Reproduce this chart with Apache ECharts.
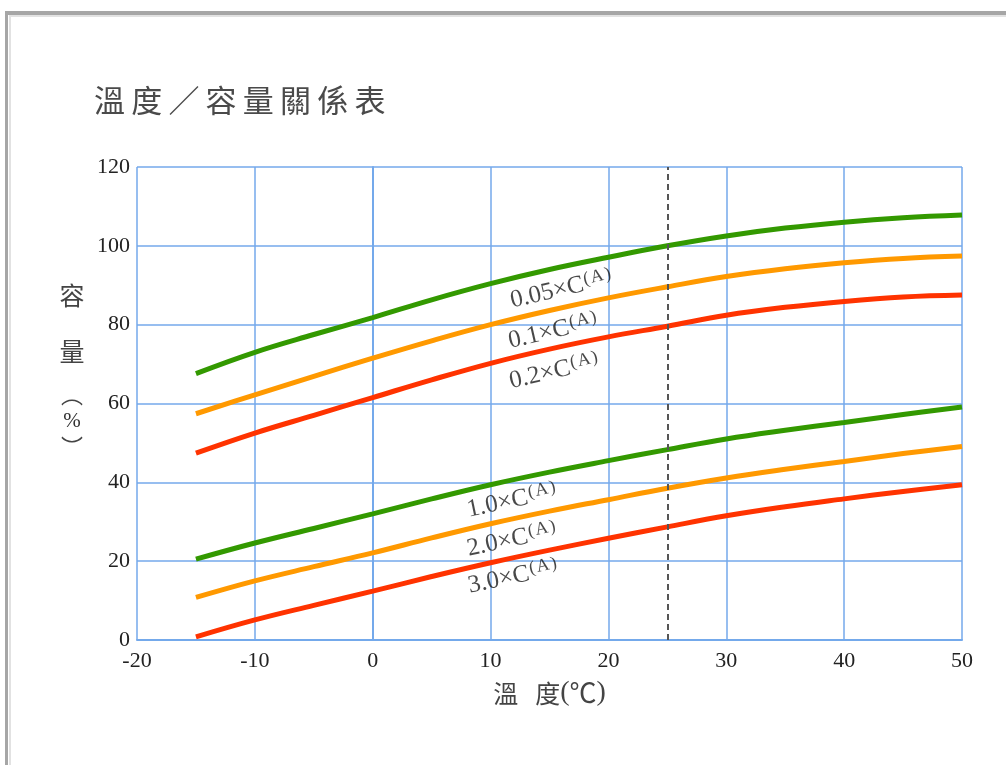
<!DOCTYPE html>
<html>
<head>
<meta charset="utf-8">
<script src="https://cdn.jsdelivr.net/npm/echarts@6/dist/echarts.min.js"></script>
<style>
html,body{margin:0;padding:0;background:#fff;}
#chart{width:1006px;height:765px;}
</style>
</head>
<body>
<div id="chart"></div>
<script>
// ---- data ----
const temps = [-15, -10, -5, 0, 5, 10, 15, 20, 25, 30, 35, 40, 45, 50];
const c005 = [67.6, 73.0, 77.5, 81.8, 86.3, 90.4, 94.0, 97.1, 100.0, 102.5, 104.5, 106.0, 107.1, 107.8];
const c01  = [57.4, 62.2, 66.9, 71.5, 75.9, 80.0, 83.6, 86.8, 89.6, 92.2, 94.2, 95.7, 96.8, 97.4];
const c02  = [47.4, 52.5, 57.0, 61.5, 66.0, 70.2, 73.8, 76.9, 79.6, 82.4, 84.4, 85.9, 87.0, 87.5];
const c10  = [20.5, 24.6, 28.3, 32.0, 35.8, 39.4, 42.6, 45.5, 48.3, 51.0, 53.2, 55.2, 57.2, 59.1];
const c20  = [10.8, 15.0, 18.6, 22.1, 25.9, 29.5, 32.7, 35.6, 38.5, 41.1, 43.3, 45.3, 47.3, 49.1];
const c30  = [0.8, 5.1, 8.8, 12.4, 16.1, 19.6, 22.8, 25.8, 28.7, 31.5, 33.8, 35.8, 37.7, 39.4];
const rateNames = ['0.05', '0.1', '0.2', '1.0', '2.0', '3.0'];
const labelX = [16.0, 15.3, 15.4, 11.8, 11.8, 11.9];
const labelY = [88.9, 78.3, 68.1, 35.3, 25.4, 16.0];
const refTemp = 25;
const xTicks = [-20, 50, 10];   // min, max, interval
const yTicks = [0, 120, 20];

const GREEN = '#339900', ORANGE = '#ff9900', RED = '#ff3300';
const colors = [GREEN, ORANGE, RED, GREEN, ORANGE, RED];
const curves = [c005, c01, c02, c10, c20, c30];

const chart = echarts.init(document.getElementById('chart'));

const lineSeries = curves.map((vals, i) => ({
  type: 'line',
  smooth: 0.4,
  showSymbol: false,
  silent: true,
  data: temps.map((t, j) => [t, vals[j]]),
  lineStyle: { color: colors[i], width: 5 },
  z: 3
}));

lineSeries[0].markLine = {
  silent: true,
  symbol: 'none',
  label: { show: false },
  lineStyle: { type: [6, 4], color: '#555', width: 2 },
  data: [{ xAxis: refTemp }]
};

const labelSeries = {
  type: 'scatter',
  symbolSize: 0,
  silent: true,
  z: 5,
  data: rateNames.map((n, i) => ({
    value: [labelX[i], labelY[i]],
    name: n,
    label: { rotate: i < 3 ? 13 : 12 }
  })),
  label: {
    show: true,
    position: 'inside',
    formatter: p => '{m|' + p.name + '×C}{s|(\u200aA\u200a)}',
    rich: {
      m: { fontFamily: 'Liberation Serif', fontSize: 25, color: '#1a1a1a', lineHeight: 27 },
      s: { fontFamily: 'Liberation Serif', fontSize: 18, color: '#1a1a1a', verticalAlign: 'top', lineHeight: 27, padding: [0, 0, 9, 1] }
    }
  }
};

const titleText = ['溫','度','／','容','量','關','係','表'].join('\u2009');

chart.setOption({
  animation: false,
  backgroundColor: '#fff',
  title: {
    text: titleText,
    left: 89,
    top: 80,
    textStyle: { fontFamily: 'Noto Sans CJK TC', fontSize: 31, fontWeight: 'normal', color: '#4a4a4a' }
  },
  grid: { left: 137, right: 44, top: 167, bottom: 125 },
  xAxis: {
    type: 'value',
    min: xTicks[0], max: xTicks[1], interval: xTicks[2],
    axisLine: { show: true, lineStyle: { color: '#74a9eb', width: 2 } },
    axisTick: { show: false },
    splitLine: { show: true, lineStyle: { color: '#74a9eb', width: 1.5 } },
    axisLabel: { fontFamily: 'Liberation Serif', fontSize: 22, color: '#222', margin: 10 },
    name: '{a|溫}{a2|度}{p|(}{c|℃}{p|)}',
    nameLocation: 'middle',
    nameGap: 39,
    nameTextStyle: {
      rich: {
        a: { fontFamily: 'Noto Sans CJK TC', fontSize: 25, color: '#444', padding: [0, 17, 0, 0] },
        a2: { fontFamily: 'Noto Sans CJK TC', fontSize: 25, color: '#444' },
        p: { fontFamily: 'Liberation Serif', fontSize: 28, color: '#444' },
        c: { fontFamily: 'Noto Sans CJK TC', fontSize: 27, color: '#444' }
      }
    }
  },
  yAxis: {
    type: 'value',
    min: yTicks[0], max: yTicks[1], interval: yTicks[2],
    axisLine: { show: true, lineStyle: { color: '#74a9eb', width: 2 } },
    axisTick: { show: false },
    splitLine: { show: true, lineStyle: { color: '#74a9eb', width: 1.5 } },
    axisLabel: { fontFamily: 'Liberation Serif', fontSize: 22, color: '#222', margin: 7 }
  },
  graphic: [
    { type: 'rect', shape: { x: 7, y: 11, width: 1000, height: 4 }, style: { fill: '#a6a6a6' }, silent: true },
    { type: 'rect', shape: { x: 9, y: 15, width: 1000, height: 2 }, style: { fill: '#e2e2e2' }, silent: true },
    { type: 'rect', shape: { x: 5, y: 11, width: 3, height: 760 }, style: { fill: '#a6a6a6' }, silent: true },
    { type: 'rect', shape: { x: 9, y: 15, width: 2, height: 760 }, style: { fill: '#e2e2e2' }, silent: true },
    { type: 'text', x: 72, y: 295, style: { text: '容', fontFamily: 'Noto Sans CJK TC', fontSize: 25, fill: '#444', align: 'center', verticalAlign: 'middle' } },
    { type: 'text', x: 72, y: 351, style: { text: '量', fontFamily: 'Noto Sans CJK TC', fontSize: 25, fill: '#444', align: 'center', verticalAlign: 'middle' } },
    { type: 'text', x: 72, y: 395, style: { text: '︵', fontFamily: 'Noto Sans CJK TC', fontSize: 22, fill: '#444', align: 'center', verticalAlign: 'middle' } },
    { type: 'text', x: 72, y: 421, style: { text: '%', fontFamily: 'Liberation Serif', fontSize: 21, fill: '#333', align: 'center', verticalAlign: 'middle' } },
    { type: 'text', x: 72, y: 447, style: { text: '︶', fontFamily: 'Noto Sans CJK TC', fontSize: 22, fill: '#444', align: 'center', verticalAlign: 'middle' } }
  ],
  series: lineSeries.concat([labelSeries])
});
</script>
</body>
</html>
